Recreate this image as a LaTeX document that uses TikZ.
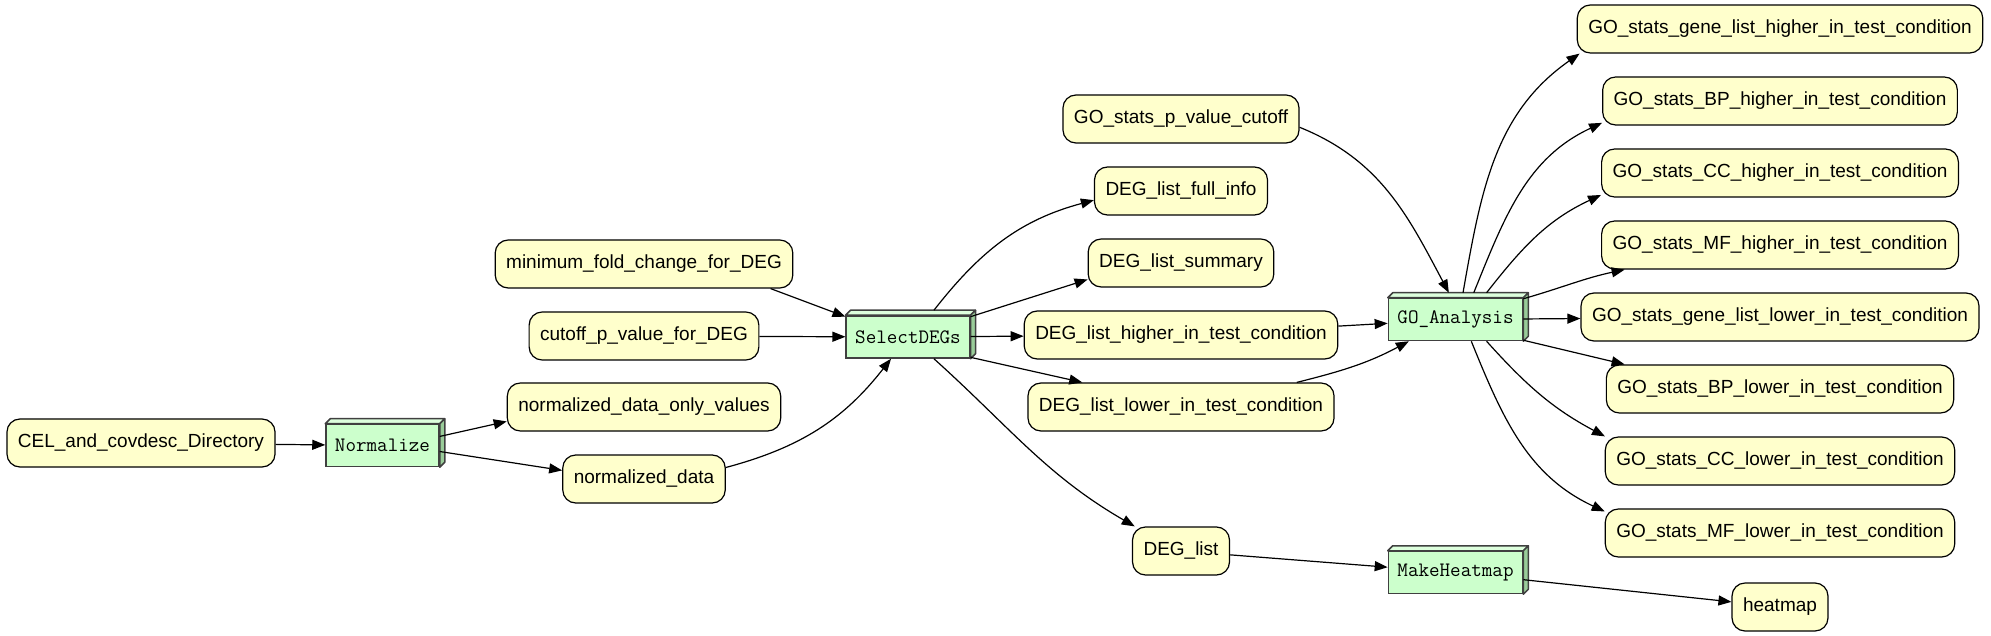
\documentclass[tikz,border=0pt]{standalone}
\usepackage{fontspec}
\setmainfont{Liberation Sans}
\usetikzlibrary{arrows.meta}
\definecolor{datayellow}{HTML}{FFFFCC}
\definecolor{procgreen}{HTML}{CCFFCC}
\definecolor{proctop}{HTML}{DDFFDD}
\definecolor{procside}{HTML}{99CC99}
\tikzset{
  data/.style={draw, line width=1.2pt, fill=datayellow, rounded corners=13pt,
    minimum height=48pt, inner xsep=11pt, font=\fontsize{19}{22}\selectfont},
  proc/.style={draw=black!75, line width=1.5pt, fill=procgreen, minimum height=42pt,
    inner xsep=9pt, font=\ttfamily\fontsize{20.5}{24}\selectfont,
    append after command={\pgfextra{
      \draw[black!75, line width=1.5pt, fill=proctop, line join=round]
        (\tikzlastnode.north west) -- ++(5pt,5pt) -- ([shift={(5pt,5pt)}]\tikzlastnode.north east)
        -- (\tikzlastnode.north east) -- cycle;
      \draw[black!75, line width=1.5pt, fill=procside, line join=round]
        (\tikzlastnode.north east) -- ++(5pt,5pt) -- ([shift={(5pt,5pt)}]\tikzlastnode.south east)
        -- (\tikzlastnode.south east) -- cycle;}}},
  flow/.style={-{Triangle[length=13pt,width=10pt]}, line width=1.2pt},
}
\begin{document}
\begin{tikzpicture}[x=1pt,y=1pt]
\useasboundingbox (0,0) rectangle (1991,635);
\node [data] (cel) at (141,192) {CEL\_and\_covdesc\_Directory};
\node [proc] (normalize) at (382.5,189.5) {Normalize};
\node [data] (onlyvals) at (644,228) {normalized\_data\_only\_values};
\node [data] (normdata) at (644,156) {normalized\_data};
\node [data] (minfold) at (644,371) {minimum\_fold\_change\_for\_DEG};
\node [data] (cutoffdeg) at (644,299) {cutoff\_p\_value\_for\_DEG};
\node [proc] (select) at (908,298) {SelectDEGs};
\node [data] (pvalue) at (1181,516) {GO\_stats\_p\_value\_cutoff};
\node [data] (fullinfo) at (1181,444) {DEG\_list\_full\_info};
\node [data] (summary) at (1181,372) {DEG\_list\_summary};
\node [data] (higher) at (1181,300) {DEG\_list\_higher\_in\_test\_condition};
\node [data] (lower) at (1181,228) {DEG\_list\_lower\_in\_test\_condition};
\node [data] (deglist) at (1181,84) {DEG\_list};
\node [proc] (goanalysis) at (1455.5,315.5) {GO\_Analysis};
\node [proc] (makeheatmap) at (1455.5,62.5) {MakeHeatmap};
\node [data] (gohighgene) at (1780,606) {GO\_stats\_gene\_list\_higher\_in\_test\_condition};
\node [data] (gohighbp) at (1780,534) {GO\_stats\_BP\_higher\_in\_test\_condition};
\node [data] (gohighcc) at (1780,462) {GO\_stats\_CC\_higher\_in\_test\_condition};
\node [data] (gohighmf) at (1780,390) {GO\_stats\_MF\_higher\_in\_test\_condition};
\node [data] (golowgene) at (1780,318) {GO\_stats\_gene\_list\_lower\_in\_test\_condition};
\node [data] (golowbp) at (1780,246) {GO\_stats\_BP\_lower\_in\_test\_condition};
\node [data] (golowcc) at (1780,174) {GO\_stats\_CC\_lower\_in\_test\_condition};
\node [data] (golowmf) at (1780,102) {GO\_stats\_MF\_lower\_in\_test\_condition};
\node [data] (heatmap) at (1780,28) {heatmap};

\draw [flow] (cel) -- (normalize);
\draw [flow] (normalize.9) -- (onlyvals.186);
\draw [flow] (normalize.354) -- (normdata.174);
\draw [flow] (normdata.8) to[out=15, in=232] (select.232);
\draw [flow] (minfold.349) -- (select.162);
\draw [flow] (cutoffdeg) -- (select);
\draw [flow] ([yshift=5pt]select.40) to[out=52, in=195] (fullinfo.186);
\draw [flow] (select.18) -- (summary.190);
\draw [flow] (select) -- (higher);
\draw [flow] (select.342) -- (lower.166);
\draw [flow] (select.320) to[out=-42, in=150] (deglist.152);
\draw [flow] (pvalue.356) to[out=-22, in=118] ([yshift=5pt]goanalysis.107);
\draw [flow] (higher) -- (goanalysis);
\draw [flow] (lower.12) to[out=14, in=208] (goanalysis.205);
\draw [flow] (deglist) -- (makeheatmap);
\draw [flow] (makeheatmap) -- (heatmap);
\draw [flow] ([yshift=5pt]goanalysis.71) to[out=80, in=215] (gohighgene.187);
\draw [flow] ([yshift=5pt]goanalysis.50) to[out=68, in=205] (gohighbp.187);
\draw [flow] ([yshift=5pt]goanalysis.35) to[out=52, in=205] (gohighcc.187);
\draw [flow] (goanalysis.17) to[out=16, in=192] (gohighmf.189);
\draw [flow] (goanalysis) -- (golowgene);
\draw [flow] (goanalysis.343) -- (golowbp.171);
\draw [flow] (goanalysis.325) to[out=-48, in=152] (golowcc.172);
\draw [flow] (goanalysis.306) to[out=-68, in=155] (golowmf.173);
\end{tikzpicture}
\end{document}
